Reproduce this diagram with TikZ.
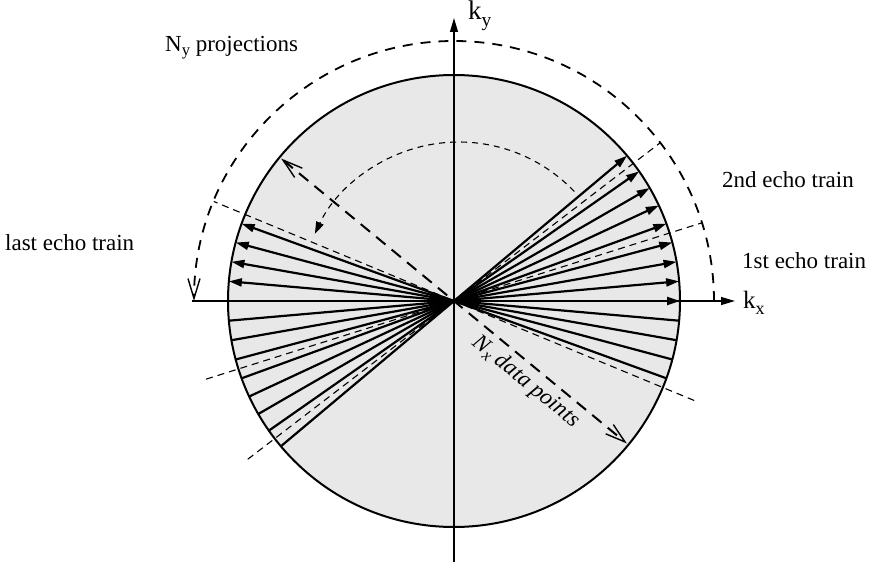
\documentclass[tikz,border=0pt]{standalone}
\usepackage{fontspec}
\setmainfont{Liberation Serif}
\usetikzlibrary{arrows.meta}
\newcommand{\lsub}[2][5pt]{\raisebox{-#1}{\scalebox{0.72}{#2}}}
\tikzset{openbarb/.tip={Straight Barb[length=20pt,width=12pt,line width=1.4pt]}}
\begin{document}
\begin{tikzpicture}[x=1pt,y=1pt,
  lbl/.style={font=\fontsize{23}{27}\selectfont, inner sep=0pt},
  echoarrow/.style={line width=2.2pt, -{Triangle[length=13pt,width=8pt]}},
  sepline/.style={line width=1.1pt, dash pattern=on 7pt off 5pt},
  axisline/.style={line width=1.2pt, -{Triangle[length=14pt,width=8pt]}},
]
\useasboundingbox (-454,-261) rectangle (415,301);
% disc
\fill[black!9] (0,0) circle[radius=226];
% axes
\draw[axisline] (-262,0) -- (281,0);
\draw[axisline] (0,-261) -- (0,283);
% separating dashed diameters
\foreach \a in {17.5,37.5,157.5}
  \draw[sepline] (\a+180:260) -- (\a:260);
% echo lines
\foreach \a in {0,5,...,40}
  \draw[echoarrow] (\a+180:226) -- (\a:226);
\foreach \a in {160,165,170,175}
  \draw[echoarrow] (\a+180:226) -- (\a:226);
% N_x dashed diameter
\draw[line width=2pt, dash pattern=on 12pt off 8pt, openbarb-openbarb]
  (140.5:224) -- (-39.5:224);
% inner dashed arc
\draw[shift={(5,0)}, line width=1.1pt, dash pattern=on 6pt off 5pt, -{Triangle[length=12pt,width=8pt]}]
  (43.5:159) arc[start angle=43.5, end angle=155, radius=159];
% big dashed arc
\draw[line width=1.8pt, dash pattern=on 10pt off 8pt, -openbarb]
  (260,0) arc[start angle=0, end angle=180, radius=260];
% circle outline
\draw[line width=2pt] (0,0) circle[radius=226];
% labels
\node[lbl, anchor=base west] (ny) at (-289,249) {N\lsub[4pt]{y} projections};
\node[lbl, anchor=base west] (second) at (268,113) {2nd echo train};
\node[lbl, anchor=base west] (first) at (288,33) {1st echo train};
\node[lbl, anchor=base west] (last) at (-449,50) {last echo train};
\node[lbl, anchor=base west, font=\fontsize{27}{29}\selectfont] (ky) at (14,281) {k\lsub[7pt]{y}};
\node[lbl, anchor=base west, font=\fontsize{25}{28}\selectfont] (kx) at (289,-7) {k\lsub[6pt]{x}};
\node[lbl, rotate=-39.5, font=\fontsize{23}{27}\selectfont\itshape] (nx) at (72,-81) {N\lsub[4pt]{x} data points};
\end{tikzpicture}
\end{document}
